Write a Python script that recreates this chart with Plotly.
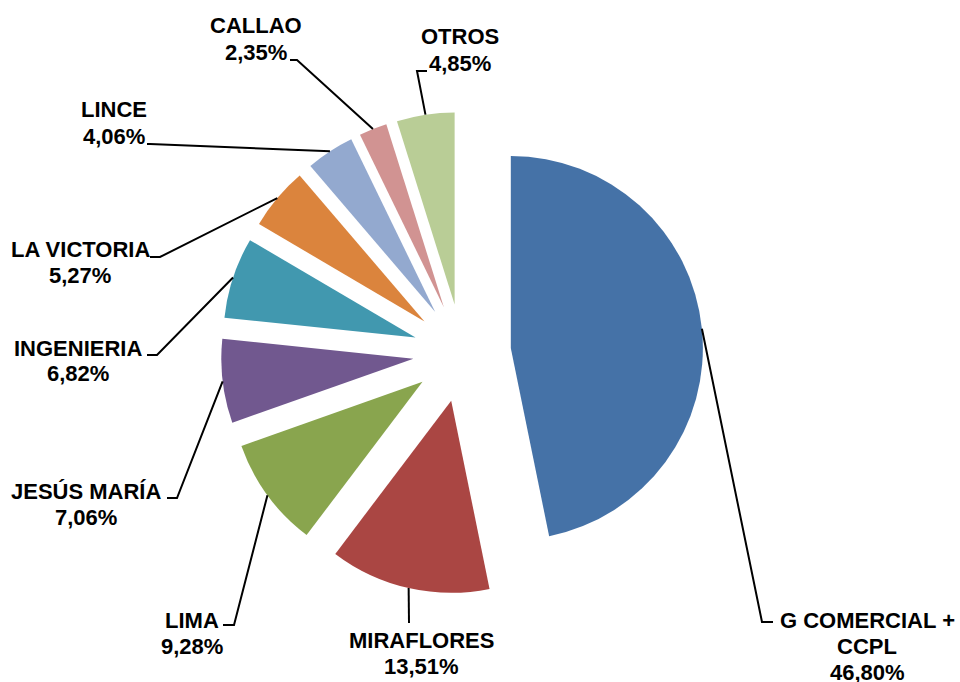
import math
import plotly.graph_objects as go

# ---- data ----
categories = ["G COMERCIAL +<br>CCPL", "MIRAFLORES", "LIMA", "JESÚS MARÍA", "INGENIERIA",
              "LA VICTORIA", "LINCE", "CALLAO", "OTROS"]
shares = [46.80, 13.51, 9.28, 7.06, 6.82, 5.27, 4.06, 2.35, 4.85]
share_labels = ["46,80%", "13,51%", "9,28%", "7,06%", "6,82%", "5,27%", "4,06%", "2,35%", "4,85%"]

# ---- styles / positions ----
colors = ["#4572A7", "#AA4643", "#89A54E", "#71588F", "#4198AF",
          "#DB843D", "#93A9CF", "#D19392", "#B9CD96"]
PULL = 0.255
W, H = 960, 682
dom_x = [0.1313, 0.8313]
dom_y = [0.129, 0.836]
# label layout in pixels: (bend point, end point, text centre x, first line y)
label_pos = [
    ((762, 622), (773, 622), 867, 620),
    ((409, 623), (409, 623), 421, 640),
    ((234, 625), (223, 625), 192, 620),
    ((177, 498), (167, 498), 86, 491),
    ((157, 355), (147, 355), 78, 348),
    ((160, 257), (150, 257), 80, 249),
    ((150, 144), (147, 144), 114, 110),
    ((297, 60), (290, 60), 256, 26),
    ((417, 71), (427, 71), 460, 37),
]
LINE_GAP = 26.0
FONT = "Liberation Sans, Arial, sans-serif"
FSIZE = 22


def px(x, y):
    return x / W, 1 - y / H


fig = go.Figure(go.Pie(
    labels=categories, values=shares, sort=False, direction="clockwise",
    rotation=0, pull=[PULL] * len(shares), textinfo="none", hoverinfo="label+percent",
    marker=dict(colors=colors, line=dict(width=0)),
    domain=dict(x=dom_x, y=dom_y), showlegend=False,
))

# geometry mirroring plotly's pie scaling
box_h = (dom_y[1] - dom_y[0]) * H
box_w = (dom_x[1] - dom_x[0]) * W
r = min(box_h, box_w) / (2 + 2 * PULL)
cx = (dom_x[0] + dom_x[1]) / 2 * W
cy = (1 - (dom_y[0] + dom_y[1]) / 2) * H

total = sum(shares)
cum = 0
shapes = []
annotations = []
for i, v in enumerate(shares):
    mid = (cum + v / 2) / total * 2 * math.pi
    cum += v
    sx = cx + r * (1 + PULL) * math.sin(mid)
    sy = cy - r * (1 + PULL) * math.cos(mid)
    (bx, by), (ex, ey), tx, ty = label_pos[i]
    p0 = px(sx, sy)
    p1 = px(bx, by)
    p2 = px(ex, ey)
    shapes.append(dict(
        type="path", xref="paper", yref="paper",
        path=f"M {p0[0]},{p0[1]} L {p1[0]},{p1[1]} L {p2[0]},{p2[1]}",
        line=dict(color="black", width=2),
    ))
    lines = categories[i].split("<br>") + [share_labels[i]]
    for k, line in enumerate(lines):
        t = px(tx, ty + k * LINE_GAP)
        annotations.append(dict(
            x=t[0], y=t[1], xref="paper", yref="paper", xanchor="center", yanchor="middle",
            text=f"<b>{line}</b>", showarrow=False,
            font=dict(family=FONT, size=FSIZE, color="black"), align="center",
        ))

fig.update_layout(
    width=W, height=H, margin=dict(l=0, r=0, t=0, b=0),
    paper_bgcolor="white", plot_bgcolor="white",
    shapes=shapes, annotations=annotations,
)
fig.write_html("out.html", config={"displayModeBar": False},
               post_script="document.body.style.margin='0px';")
